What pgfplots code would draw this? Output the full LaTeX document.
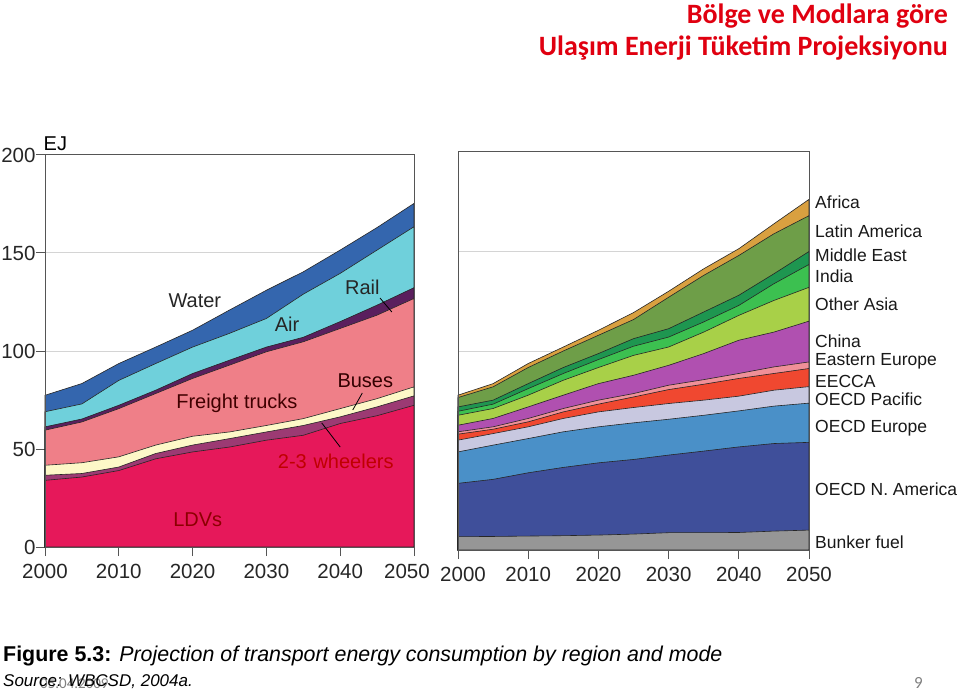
\documentclass[border=0pt]{standalone}
\usepackage{pgfplots}
\usepackage{pgfplotstable}
\pgfplotsset{compat=1.18}
\usepackage{fontspec}
\setmainfont{Liberation Sans}
\newfontfamily\titlefont{Carlito}

\definecolor{titlered}{HTML}{E00010}
\definecolor{framegray}{HTML}{555555}
\definecolor{gridgray}{HTML}{D4D4D4}
% left chart
\definecolor{cWater}{HTML}{3466AE}
\definecolor{cAir}{HTML}{6FD0DB}
\definecolor{cRail}{HTML}{5A1F5E}
\definecolor{cFreight}{HTML}{EF7F88}
\definecolor{cBuses}{HTML}{FDF8C8}
\definecolor{cWheel}{HTML}{9C3A73}
\definecolor{cLDV}{HTML}{E6185A}
% right chart
\definecolor{cAfrica}{HTML}{D9A040}
\definecolor{cLatin}{HTML}{6E9E48}
\definecolor{cME}{HTML}{1E9650}
\definecolor{cIndia}{HTML}{3CC050}
\definecolor{cOA}{HTML}{A8D048}
\definecolor{cChina}{HTML}{B050B0}
\definecolor{cEE}{HTML}{F09098}
\definecolor{cEECCA}{HTML}{F04830}
\definecolor{cOP}{HTML}{C8C8E0}
\definecolor{cOE}{HTML}{4A90C8}
\definecolor{cNA}{HTML}{3F4F9A}
\definecolor{cBunker}{HTML}{969696}

% cumulative tops (EJ), by mode
\pgfplotstableread{
year ldv wheel buses freight rail air water
2000 34.0 36.6 41.7 59.6 61.3 69.0 77.4
2005 35.7 37.5 43.0 63.8 65.3 73.0 83.4
2010 39.0 40.8 46.0 70.6 72.3 85.0 93.6
2015 45.0 47.7 52.0 78.3 80.0 93.6 102.0
2020 48.5 52.0 56.5 86.0 88.5 102.0 110.6
2025 51.0 55.3 58.7 92.8 95.3 109.0 120.9
2030 54.5 58.7 62.0 99.6 102.0 116.6 131.0
2035 57.0 62.0 65.5 104.7 107.0 129.0 140.4
2040 63.0 66.4 70.6 111.5 115.0 139.6 151.5
2045 67.0 71.5 75.7 118.3 123.4 151.5 163.0
2050 72.3 77.1 81.7 126.8 132.3 163.4 175.3
}\modes

% cumulative tops (EJ), by region
\pgfplotstableread{
year bunker na oe op eecca ee china oa india me latin africa
2000 6.7 33.5 49.3 55.2 58.2 59.4 62.7 67.7 69.7 71.9 76.6 77.8
2005 6.8 35.5 52.7 58.5 60.7 61.9 66.1 71.1 73.3 75.3 82.0 83.6
2010 7.0 38.8 56.0 61.9 64.4 66.1 71.9 77.8 81.1 83.6 91.7 93.7
2015 7.2 41.5 59.4 66.1 69.4 71.1 77.8 85.3 88.7 91.7 100.0 102.0
2020 7.5 43.8 61.9 69.4 73.3 75.3 83.6 91.7 95.7 98.7 107.9 110.4
2025 8.0 45.5 63.9 71.6 76.9 78.6 87.8 97.8 102.4 106.2 115.8 119.3
2030 8.7 47.7 65.7 73.6 80.6 82.8 92.8 102.0 107.0 111.2 127.0 130.0
2035 8.7 49.7 67.7 75.3 83.3 85.6 98.7 109.5 114.6 119.6 138.0 141.3
2040 8.8 51.8 69.9 77.3 86.2 88.7 105.4 117.9 122.9 128.0 148.0 151.4
2045 9.5 53.5 72.3 80.3 88.7 92.0 109.5 125.4 133.8 138.8 158.9 163.9
2050 10.0 54.1 73.8 82.1 91.2 94.5 115.0 132.0 143.5 150.0 168.0 176.2
}\regions

\pgfplotsset{
  common/.style={
    scale only axis,
    anchor=south west,
    xmin=2000, xmax=2050, ymin=0, ymax=200,
    tick align=outside,
    major tick length=9pt,
    xtick pos=bottom,
    ytick pos=left,
    ymajorgrids,
    grid style={draw=gridgray, line width=1pt},
    axis line style={draw=framegray, line width=1pt},
    tick style={draw=framegray, line width=1pt},
    /pgf/number format/1000 sep={},
    /pgf/number format/assume math mode=true,
    ticklabel style={font=\fontsize{20.5}{24}\selectfont, text=black!85},
    xticklabel style={yshift=-5pt},
    yticklabel style={xshift=3pt},
    extra x tick style={grid=none},
    clip=false,
  },
  area/.style={fill=#1, draw=black!85, line width=0.6pt},
}

\begin{document}
\begin{tikzpicture}[x=1pt,y=1pt]
\useasboundingbox (0,0) rectangle (960,691);
\fill[white] (0,0) rectangle (960,691);

% title
\node[anchor=north east, align=right, text=titlered, inner sep=0,
      font=\titlefont\bfseries\fontsize{28}{32}\selectfont] at (948,687)
  {Bölge ve Modlara göre\\Ulaşım Enerji Tüketim Projeksiyonu};

% ---------- left chart: by mode ----------
\begin{axis}[common, at={(45pt,144pt)}, width=369pt, height=392pt,
  xtick={2000,2010,...,2040}, extra x ticks={2050},
  extra x tick style={xticklabel style={xshift=-7pt}},
  ytick={0,50,...,200}]
\addplot[area=cWater] table[x=year,y=water]{\modes} \closedcycle;
\addplot[area=cAir] table[x=year,y=air]{\modes} \closedcycle;
\addplot[area=cRail] table[x=year,y=rail]{\modes} \closedcycle;
\addplot[area=cFreight] table[x=year,y=freight]{\modes} \closedcycle;
\addplot[area=cBuses] table[x=year,y=buses]{\modes} \closedcycle;
\addplot[area=cWheel] table[x=year,y=wheel]{\modes} \closedcycle;
\addplot[area=cLDV] table[x=year,y=ldv]{\modes} \closedcycle;
\draw[framegray, line width=1pt] (rel axis cs:0,0) rectangle (rel axis cs:1,1);
\begin{scope}[font=\fontsize{20}{24}\selectfont]
\node[text=black!85] at (axis cs:2020.3,125.5) {Water};
\node[text=black!85] at (axis cs:2032.8,113.8) {Air};
\node[text=black!85] at (axis cs:2043,132.7) {Rail};
\node[text=black!80!red] at (axis cs:2043.4,84.7) {Buses};
\node[text=black!75!red] at (axis cs:2026,73.5) {Freight trucks};
\node[text=red!75!black] at (axis cs:2039.4,43.9) {2-3\,\,wheelers};
\node[text=red!55!black] at (axis cs:2020.7,13.8) {LDVs};
\node[text=black] at (axis cs:2001.4,206) {EJ};
\end{scope}
\draw[black, line width=0.8pt] (axis cs:2045.4,127) -- (axis cs:2047.0,119.9);
\draw[black, line width=0.8pt] (axis cs:2043,78.6) -- (axis cs:2041.7,69.9);
\draw[black, line width=0.8pt] (axis cs:2037.5,63.3) -- (axis cs:2040,51);
\end{axis}

% ---------- right chart: by region ----------
\begin{axis}[common, at={(458pt,141pt)}, width=351pt, height=398pt,
  xtick={2010,2020,...,2050}, extra x ticks={2000},
  extra x tick style={xticklabel style={xshift=5pt}},
  ytick={50,100,150}, yticklabels={}, ytick style={draw=none}]
\addplot[area=cAfrica] table[x=year,y=africa]{\regions} \closedcycle;
\addplot[area=cLatin] table[x=year,y=latin]{\regions} \closedcycle;
\addplot[area=cME] table[x=year,y=me]{\regions} \closedcycle;
\addplot[area=cIndia] table[x=year,y=india]{\regions} \closedcycle;
\addplot[area=cOA] table[x=year,y=oa]{\regions} \closedcycle;
\addplot[area=cChina] table[x=year,y=china]{\regions} \closedcycle;
\addplot[area=cEE] table[x=year,y=ee]{\regions} \closedcycle;
\addplot[area=cEECCA] table[x=year,y=eecca]{\regions} \closedcycle;
\addplot[area=cOP] table[x=year,y=op]{\regions} \closedcycle;
\addplot[area=cOE] table[x=year,y=oe]{\regions} \closedcycle;
\addplot[area=cNA] table[x=year,y=na]{\regions} \closedcycle;
\addplot[area=cBunker] table[x=year,y=bunker]{\regions} \closedcycle;
\draw[framegray, line width=1pt] (rel axis cs:0,0) rectangle (rel axis cs:1,1);
\end{axis}

% region labels
\begin{scope}[font=\fontsize{17.5}{20}\selectfont, text=black!90]
\node[anchor=west, inner sep=0] at (815,691-202) {Africa};
\node[anchor=west, inner sep=0] at (815,691-231) {Latin America};
\node[anchor=west, inner sep=0] at (815,691-255) {Middle East};
\node[anchor=west, inner sep=0] at (815,691-276) {India};
\node[anchor=west, inner sep=0] at (815,691-304) {Other Asia};
\node[anchor=west, inner sep=0] at (815,691-341) {China};
\node[anchor=west, inner sep=0] at (815,691-361) {Eastern Europe};
\node[anchor=west, inner sep=0] at (815,691-381) {EECCA};
\node[anchor=west, inner sep=0] at (815,691-399) {OECD Pacific};
\node[anchor=west, inner sep=0] at (815,691-428) {OECD Europe};
\node[anchor=west, inner sep=0] at (815,691-489) {OECD N. America};
\node[anchor=west, inner sep=0] at (815,691-542) {Bunker fuel};
\end{scope}

% caption and footer
\node[anchor=base west, inner sep=0, font=\fontsize{21.4}{24}\selectfont] at (3,30)
  {\textbf{Figure 5.3:} \textit{Projection of transport energy consumption by region and mode}};
\node[anchor=base west, inner sep=0, text=black!50, font=\titlefont\fontsize{15}{18}\selectfont] at (40,3) {05.04.2009};
\node[anchor=base west, inner sep=0, font=\fontsize{17}{20}\selectfont] at (3,5)
  {\textit{Source: WBCSD, 2004a.}};
\node[anchor=base west, inner sep=0, text=black!50, font=\titlefont\fontsize{17}{20}\selectfont] at (914,3) {9};
\end{tikzpicture}
\end{document}
